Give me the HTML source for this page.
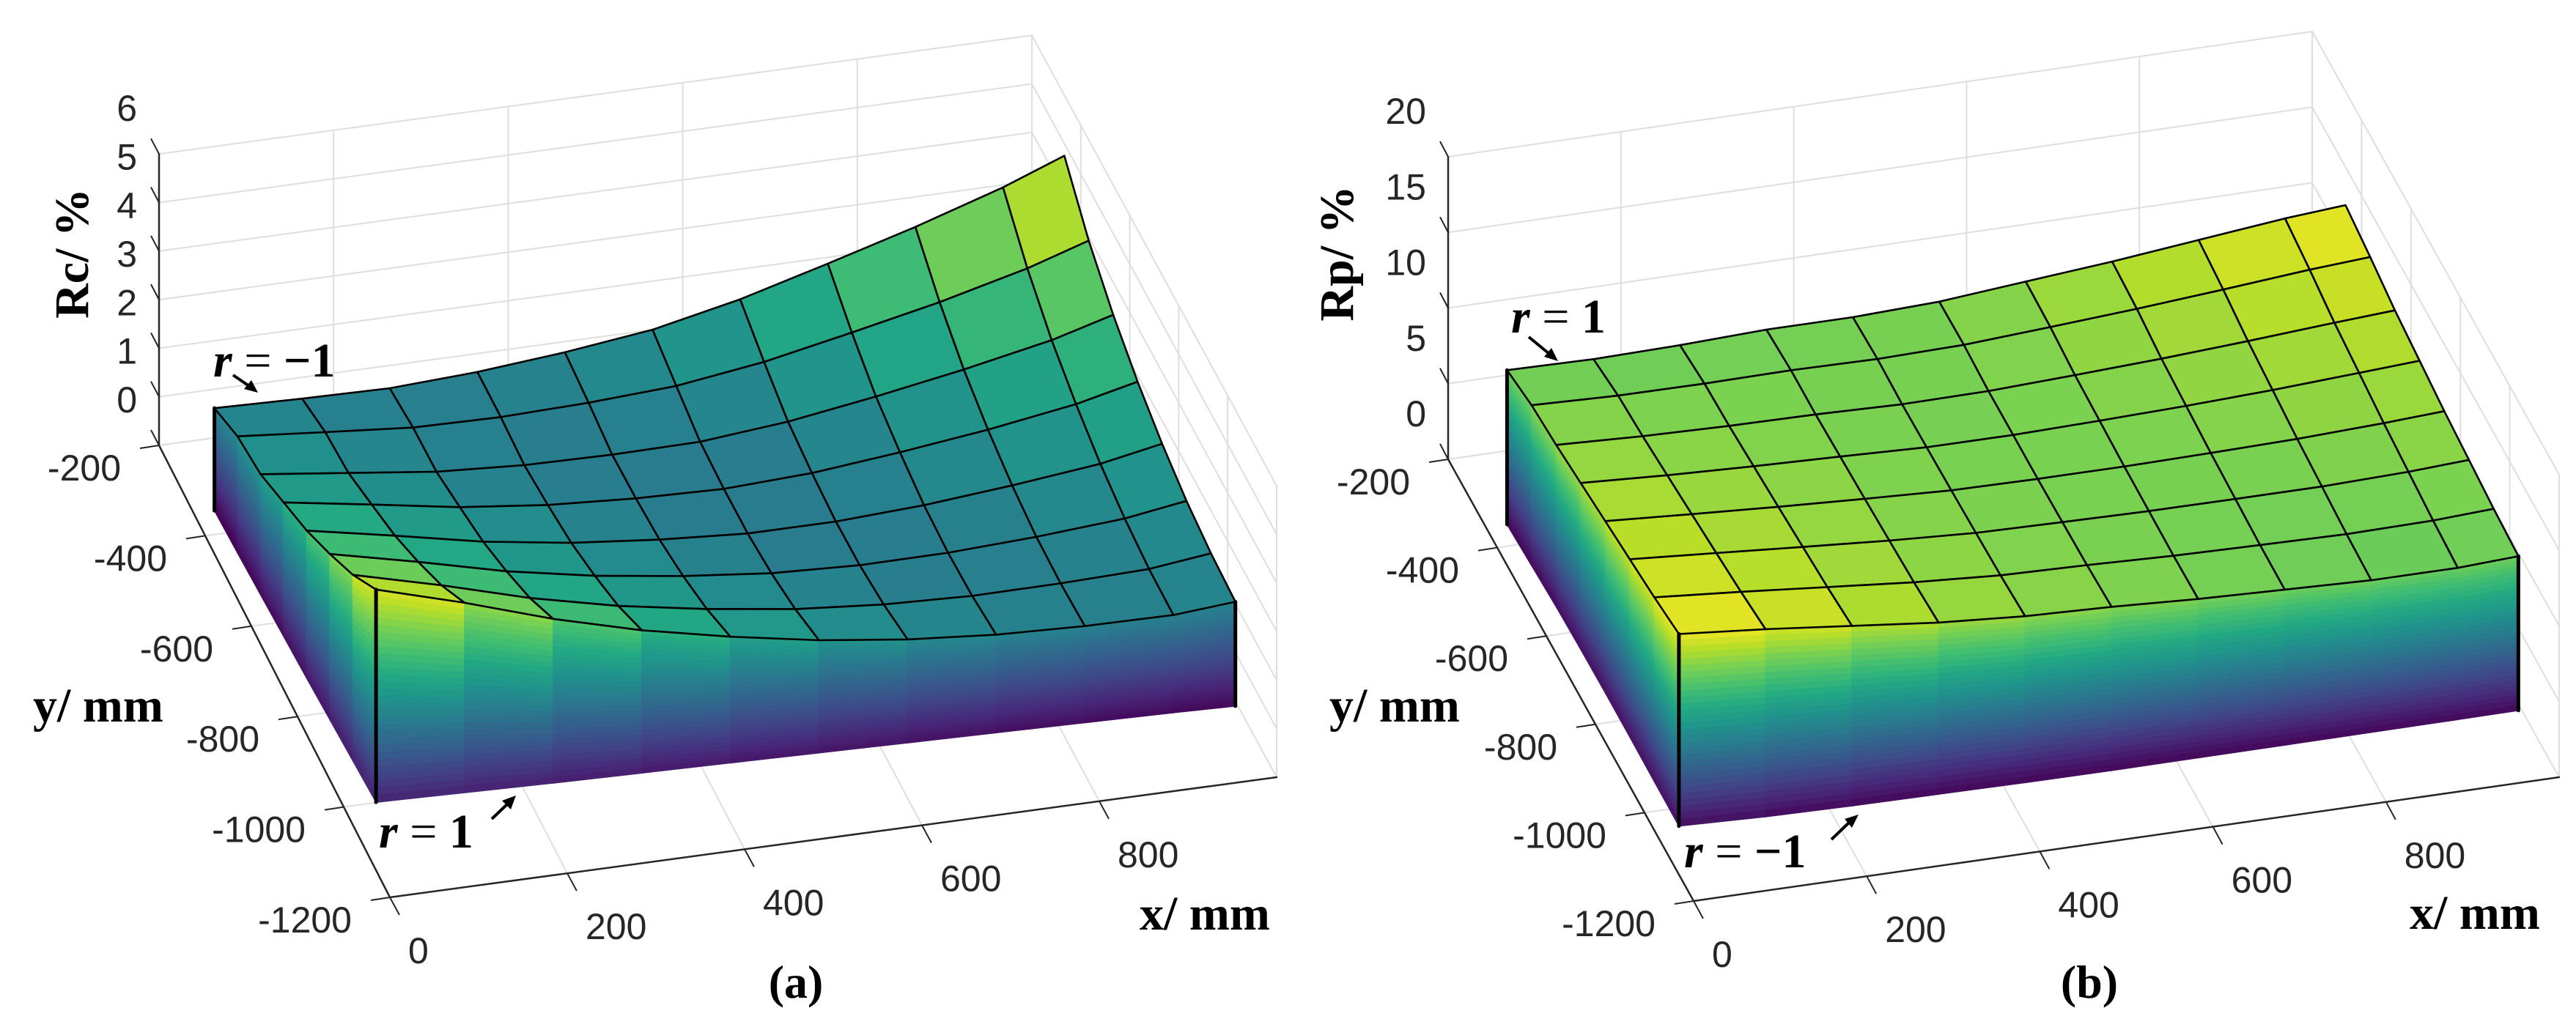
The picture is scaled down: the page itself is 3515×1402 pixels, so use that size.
<!DOCTYPE html>
<html><head><meta charset="utf-8"><title>Rc and Rp surfaces</title>
<style>html,body{margin:0;padding:0;background:#fff;}svg{display:block;}</style></head>
<body>
<svg id="fig" xmlns="http://www.w3.org/2000/svg" width="3515" height="1402" viewBox="0 0 3515 1402">
<rect x="0" y="0" width="3515" height="1402" fill="#fff"/>
<g id="panelA"></g>
<g id="panelB"></g>
<g font-family="Liberation Serif, serif" fill="#000">
  <text x="291" y="514" font-size="66"><tspan font-style="italic" font-weight="bold">r</tspan> = <tspan font-weight="bold">−1</tspan></text>
  <line x1="318" y1="512" x2="340" y2="527" stroke="#000" stroke-width="4"/>
  <polygon points="352,536 333,531 343,519" fill="#000"/>
  <text x="517" y="1157" font-size="66"><tspan font-style="italic" font-weight="bold">r</tspan> = <tspan font-weight="bold">1</tspan></text>
  <line x1="671" y1="1118" x2="693" y2="1097" stroke="#000" stroke-width="4"/>
  <polygon points="704,1086 697,1105 685,1093" fill="#000"/>
  <text x="2062" y="454" font-size="66"><tspan font-style="italic" font-weight="bold">r</tspan> = <tspan font-weight="bold">1</tspan></text>
  <line x1="2086" y1="460" x2="2114" y2="483" stroke="#000" stroke-width="4"/>
  <polygon points="2126,493 2107,487 2117,475" fill="#000"/>
  <text x="2298" y="1184" font-size="66"><tspan font-style="italic" font-weight="bold">r</tspan> = <tspan font-weight="bold">−1</tspan></text>
  <line x1="2499" y1="1146" x2="2524" y2="1122" stroke="#000" stroke-width="4"/>
  <polygon points="2536,1112 2527,1130 2517,1118" fill="#000"/>

  <text transform="translate(120,346) rotate(-90)" text-anchor="middle" font-size="66" font-weight="bold">Rc/ %</text>
  <text x="45" y="985" font-size="66" font-weight="bold">y/ mm</text>
  <text x="1555" y="1269" font-size="66" font-weight="bold">x/ mm</text>
  <text x="1086" y="1362" text-anchor="middle" font-size="64" font-weight="bold">(a)</text>

  <text transform="translate(1846,346) rotate(-90)" text-anchor="middle" font-size="66" font-weight="bold">Rp/ %</text>
  <text x="1814" y="985" font-size="66" font-weight="bold">y/ mm</text>
  <text x="3288" y="1268" font-size="66" font-weight="bold">x/ mm</text>
  <text x="2851" y="1362" text-anchor="middle" font-size="64" font-weight="bold">(b)</text>
</g>
</svg>
<script>
// ---- data ----
const xNodes = [0,100,200,300,400,500,600,700,800,900,970];
const yNodes = [-440,-540,-640,-740,-840,-940,-1040,-1140];
const xTicks = [0,200,400,600,800];
const xTickLabels = ["0","200","400","600","800"];
const yTicks = [-200,-400,-600,-800,-1000,-1200];
const yTickLabels = ["-200","-400","-600","-800","-1000","-1200"];
const zTicksA = [0,1,2,3,4,5,6];
const zTickLabelsA = ["0","1","2","3","4","5","6"];
const zTicksB = [0,5,10,15,20];
const zTickLabelsB = ["0","5","10","15","20"];

const zTopA = [
 [3.0,2.95,2.92,3.01,3.17,3.39,3.77,4.26,4.77,5.34,5.82],
 [3.35,3.19,3.04,3.01,3.06,3.16,3.41,3.77,4.15,4.60,5.0],
 [3.5,3.28,3.06,2.95,2.92,2.94,3.11,3.38,3.69,4.05,4.4],
 [3.85,3.56,3.26,3.06,2.95,2.90,2.98,3.16,3.38,3.66,3.95],
 [4.2,3.85,3.48,3.21,3.03,2.91,2.91,3.0,3.16,3.36,3.6],
 [4.65,4.24,3.80,3.46,3.21,3.02,2.94,2.95,3.03,3.16,3.35],
 [5.15,4.69,4.18,3.77,3.46,3.21,3.06,2.99,3.0,3.05,3.2],
 [5.78,5.26,4.68,4.2,3.82,3.5,3.27,3.12,3.05,3.03,3.13]
];
const zBotFrontA = [1.40,1.35,1.30,1.26,1.22,1.18,1.14,1.10,1.06,1.02,0.98];
const zBotLeftA = [0.89,0.95,1.02,1.09,1.16,1.24,1.32,1.40];

const zTopB = [
 [12.9,12.8,12.9,13.1,13.1,13.3,13.8,14.3,14.9,15.5,15.8],
 [13.5,13.31,13.28,13.34,13.26,13.37,13.72,14.10,14.55,15.04,15.3],
 [13.8,13.55,13.41,13.34,13.19,13.24,13.47,13.73,14.07,14.46,14.7],
 [14.2,13.89,13.66,13.48,13.27,13.26,13.38,13.54,13.76,14.07,14.3],
 [14.6,14.24,13.90,13.61,13.35,13.28,13.28,13.35,13.46,13.68,13.9],
 [15.0,14.59,14.17,13.77,13.46,13.35,13.26,13.24,13.24,13.39,13.6],
 [15.4,14.95,14.44,13.94,13.58,13.43,13.23,13.12,13.02,13.10,13.3],
 [15.9,15.4,14.8,14.2,13.8,13.6,13.3,13.1,12.9,12.9,13.1]
];
const zBotFrontB = [3.2,3.0,2.9,2.85,2.8,2.78,2.8,2.82,2.85,2.87,2.9];
const zBotLeftB = [2.7,2.9,3.1,3.2,3.25,3.25,3.22,3.2];

// ---- geometry / style ----
const NS = "http://www.w3.org/2000/svg";
const PA = {BL:[217,608],BR:[1408,446],FL:[532,1225],FR:[1742,1061],zs:66.3,zmax:6,cmin:0.9,cmax:5.8};
const PB = {BL:[1976,627],BR:[3155,456],FL:[2311,1230],FR:[3492,1061],zs:20.65,zmax:20,cmin:2.6,cmax:16};
const VIR = ["#440154","#482475","#414487","#355f8d","#2a788e","#21918c","#22a884","#44bf70","#7ad151","#bddf26","#fde725"];

function hex(c){return [parseInt(c.substr(1,2),16),parseInt(c.substr(3,2),16),parseInt(c.substr(5,2),16)];}
function viridis(t){
  t=Math.max(0,Math.min(1,t));
  const f=t*10, i=Math.min(9,Math.floor(f)), r=f-i;
  const a=hex(VIR[i]), b=hex(VIR[i+1]);
  return "rgb("+a.map((v,k)=>Math.round(v+(b[k]-v)*r)).join(",")+")";
}
function proj(P,x,y,z){
  const u=x/1000, v=(-200-y)/1000;
  const X=P.BL[0]*(1-u)*(1-v)+P.BR[0]*u*(1-v)+P.FL[0]*(1-u)*v+P.FR[0]*u*v;
  const Y=P.BL[1]*(1-u)*(1-v)+P.BR[1]*u*(1-v)+P.FL[1]*(1-u)*v+P.FR[1]*u*v - z*P.zs;
  return [X,Y];
}
function mk(parent,tag,attrs){
  const e=document.createElementNS(NS,tag);
  for(const k in attrs) e.setAttribute(k,attrs[k]);
  parent.appendChild(e);
  return e;
}
function pts(a){return a.map(p=>p[0].toFixed(1)+","+p[1].toFixed(1)).join(" ");}
function seg(g,P,p1,p2,color,w){
  const a=proj(P,p1[0],p1[1],p1[2]), b=proj(P,p2[0],p2[1],p2[2]);
  return mk(g,"line",{x1:a[0],y1:a[1],x2:b[0],y2:b[1],stroke:color,"stroke-width":w,"stroke-linecap":"round"});
}

function drawPanel(g,P,zTicks,zLabels,zTop,zBotFront,zBotLeft){
  const GRID="#dedede", AX="#262626", zm=P.zmax;
  for(const z of zTicks){
    const l=seg(g,P,[0,-200,z],[1000,-200,z],GRID,2);
    
    
  }
  for(const x of xTicks.concat([1000])){
    const l=seg(g,P,[x,-200,0],[x,-200,zm],GRID,2);
    
    
  }
  for(const z of zTicks){
    const l=seg(g,P,[1000,-200,z],[1000,-1200,z],GRID,2);
    
    
  }
  for(const y of yTicks){
    const l=seg(g,P,[1000,y,0],[1000,y,zm],GRID,2);
    
    
  }
  for(const x of xTicks){
    const l=seg(g,P,[x,-200,0],[x,-1200,0],GRID,2);
    
    
  }
  for(const y of yTicks){
    const l=seg(g,P,[0,y,0],[1000,y,0],GRID,2);
    
    
  }
  const za=seg(g,P,[0,-200,0],[0,-200,zm],AX,2.5);
  
  
  const ya=seg(g,P,[0,-200,0],[0,-1200,0],AX,2.5);
  
  
  const xa=seg(g,P,[0,-1200,0],[1000,-1200,0],AX,2.5);
  
  

  const font="Liberation Sans, Arial, sans-serif";
  zTicks.forEach((z,i)=>{
    const p=proj(P,0,-200,z);
    const t=mk(g,"line",{x1:p[0],y1:p[1],x2:p[0]-11,y2:p[1]-21,stroke:AX,"stroke-width":2});
    
    
    const tx=mk(g,"text",{x:p[0]-30,y:p[1]-45,"text-anchor":"end","font-family":font,"font-size":50,fill:AX});
    tx.textContent=zLabels[i];
    
    
  });
  yTicks.forEach((y,i)=>{
    const p=proj(P,0,y,0);
    const t=mk(g,"line",{x1:p[0],y1:p[1],x2:p[0]-26,y2:p[1]+4,stroke:AX,"stroke-width":2});
    
    
    const tx=mk(g,"text",{x:p[0]-52,y:p[1]+48,"text-anchor":"end","font-family":font,"font-size":50,fill:AX});
    tx.textContent=yTickLabels[i];
    
    
  });
  xTicks.forEach((x,i)=>{
    const p=proj(P,x,-1200,0);
    const t=mk(g,"line",{x1:p[0],y1:p[1],x2:p[0]+13,y2:p[1]+24,stroke:AX,"stroke-width":2});
    
    
    const tx=mk(g,"text",{x:p[0]+25,y:p[1]+90,"text-anchor":"start","font-family":font,"font-size":50,fill:AX});
    tx.textContent=xTickLabels[i];
    
    
  });

  const ny=yNodes.length, nx=xNodes.length, N=30, cr=P.cmax-P.cmin;
  const col=v=>viridis((v-P.cmin)/cr);
  const x0=xNodes[0];
  for(let j=0;j<ny-1;j++){
    for(let k=0;k<N;k++){
      const f0=k/N, f1=(k+1)/N;
      const a0=zTop[j][0]+(zBotLeft[j]-zTop[j][0])*f0, a1=zTop[j][0]+(zBotLeft[j]-zTop[j][0])*f1;
      const b0=zTop[j+1][0]+(zBotLeft[j+1]-zTop[j+1][0])*f0, b1=zTop[j+1][0]+(zBotLeft[j+1]-zTop[j+1][0])*f1;
      const c=col((a0+a1+b0+b1)/4);
      const poly=mk(g,"polygon",{points:pts([proj(P,x0,yNodes[j],a0),proj(P,x0,yNodes[j+1],b0),proj(P,x0,yNodes[j+1],b1),proj(P,x0,yNodes[j],a1)]),fill:c,stroke:c,"stroke-width":1.5});
      
      
    }
  }
  const yf=yNodes[ny-1], zf=zTop[ny-1];
  for(let i=0;i<nx-1;i++){
    for(let k=0;k<N;k++){
      const f0=k/N, f1=(k+1)/N;
      const a0=zf[i]+(zBotFront[i]-zf[i])*f0, a1=zf[i]+(zBotFront[i]-zf[i])*f1;
      const b0=zf[i+1]+(zBotFront[i+1]-zf[i+1])*f0, b1=zf[i+1]+(zBotFront[i+1]-zf[i+1])*f1;
      const c=col((a0+a1+b0+b1)/4);
      const poly=mk(g,"polygon",{points:pts([proj(P,xNodes[i],yf,a0),proj(P,xNodes[i+1],yf,b0),proj(P,xNodes[i+1],yf,b1),proj(P,xNodes[i],yf,a1)]),fill:c,stroke:c,"stroke-width":1.5});
      
      
    }
  }
  for(let j=0;j<ny-1;j++){
    for(let i=nx-2;i>=0;i--){
      const z1=zTop[j][i], z2=zTop[j][i+1], z3=zTop[j+1][i+1], z4=zTop[j+1][i];
      const c=col((z1+z2+z3+z4)/4);
      const poly=mk(g,"polygon",{points:pts([proj(P,xNodes[i],yNodes[j],z1),proj(P,xNodes[i+1],yNodes[j],z2),proj(P,xNodes[i+1],yNodes[j+1],z3),proj(P,xNodes[i],yNodes[j+1],z4)]),fill:c,stroke:"#000","stroke-width":2.6,"stroke-linejoin":"round"});
      
      
    }
  }
  const e1=seg(g,P,[x0,yNodes[0],zTop[0][0]],[x0,yNodes[0],zBotLeft[0]],"#000",5);
  
  
  const e2=seg(g,P,[x0,yf,zf[0]],[x0,yf,zBotFront[0]],"#000",5);
  
  
  const e3=seg(g,P,[xNodes[nx-1],yf,zf[nx-1]],[xNodes[nx-1],yf,zBotFront[nx-1]],"#000",5);
  
  
}

drawPanel(document.getElementById('panelA'),PA,zTicksA,zTickLabelsA,zTopA,zBotFrontA,zBotLeftA);
drawPanel(document.getElementById('panelB'),PB,zTicksB,zTickLabelsB,zTopB,zBotFrontB,zBotLeftB);
</script>
</body></html>
